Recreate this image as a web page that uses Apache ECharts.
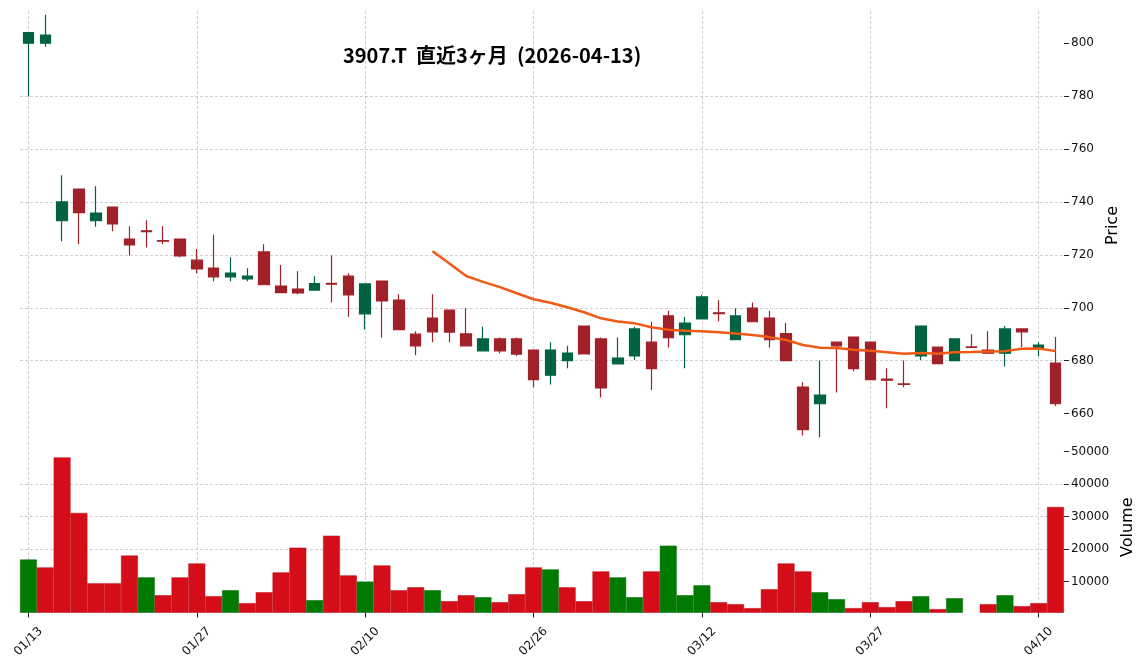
<!DOCTYPE html>
<html>
<head>
<meta charset="utf-8">
<script src="https://cdn.jsdelivr.net/npm/echarts@6/dist/echarts.min.js"></script>
<style>
  html, body { margin: 0; padding: 0; background: #fff; }
  #chart { width: 1144px; height: 670px; }
</style>
</head>
<body>
<div id="chart"></div>
<script>
// trading days (MM/DD), 2026
const dates = [
  '01/13','01/14','01/15','01/16','01/19','01/20','01/21','01/22','01/23','01/26',
  '01/27','01/28','01/29','01/30','02/02','02/03','02/04','02/05','02/06','02/09',
  '02/10','02/12','02/13','02/16','02/17','02/18','02/19','02/20','02/24','02/25',
  '02/26','02/27','03/02','03/03','03/04','03/05','03/06','03/09','03/10','03/11',
  '03/12','03/13','03/16','03/17','03/18','03/19','03/23','03/24','03/25','03/26',
  '03/27','03/30','03/31','04/01','04/02','04/03','04/06','04/07','04/08','04/09',
  '04/10','04/13'
];
const opens = [
  800.0,800.0,732.9,744.9,732.9,738.1,726.0,729.1,725.4,726.0,
  718.0,715.0,711.7,710.9,721.1,708.2,707.1,706.7,709.2,712.0,
  697.7,710.1,702.9,690.0,696.1,699.1,690.1,683.7,688.2,688.2,
  684.0,674.5,680.0,693.1,688.2,678.8,681.8,687.0,696.9,689.8,
  695.8,698.1,687.9,699.9,696.1,690.2,670.0,663.7,687.0,688.9,
  687.0,673.0,671.2,681.8,685.1,680.0,685.2,684.0,682.8,692.0,
  684.9,679.1
];
const closes = [
  804.0,803.1,740.0,736.0,735.8,731.7,723.8,728.8,725.2,719.6,
  714.7,711.7,713.1,712.0,708.7,705.7,705.6,709.1,708.9,704.9,
  709.0,702.6,691.7,685.6,690.9,690.8,685.6,688.2,683.7,682.5,
  672.8,684.0,682.9,682.6,669.7,681.0,692.0,677.0,688.7,694.2,
  704.1,697.8,696.9,694.7,687.9,680.0,653.9,667.0,685.6,677.0,
  672.8,672.6,671.0,693.1,678.9,688.2,685.0,682.8,692.0,690.9,
  685.9,663.7
];
const lows = [
  780.0,798.7,725.1,724.0,730.6,728.9,719.8,722.8,724.0,719.1,
  713.0,710.0,710.0,710.0,708.7,705.7,705.1,706.7,702.0,696.6,
  691.8,688.8,691.7,682.0,687.0,687.0,685.6,683.7,682.8,681.8,
  669.9,671.0,677.1,682.6,666.1,678.8,680.2,668.9,685.0,677.1,
  695.8,694.9,687.9,694.7,685.0,680.0,651.7,651.0,668.0,676.0,
  672.8,662.0,669.9,680.2,678.9,680.0,685.0,682.8,677.8,685.1,
  681.8,662.9
];
const highs = [
  804.0,810.8,750.1,744.9,745.9,738.1,730.8,733.1,730.8,726.0,
  722.2,727.6,719.1,714.9,724.0,716.2,713.8,711.9,719.8,713.0,
  709.0,710.1,705.1,691.1,705.1,699.1,699.8,692.8,688.8,688.8,
  684.0,687.0,685.6,693.1,688.8,688.8,692.8,694.7,698.9,696.6,
  704.9,702.8,699.8,702.0,698.9,694.2,671.8,680.1,687.0,688.9,
  687.0,677.1,680.1,693.1,685.1,688.2,690.0,691.1,693.1,692.0,
  687.0,688.9
];
// 25-day moving average as drawn (starts on the 25th session)
const ma25 = [
  '-','-','-','-','-','-','-','-','-','-',
  '-','-','-','-','-','-','-','-','-','-',
  '-','-','-','-',721.4,716.7,712.0,709.8,707.8,705.5,
  703.2,701.9,700.2,698.3,696.0,694.8,694.1,692.6,691.7,691.3,
  691.1,690.7,690.3,689.7,688.9,687.8,685.9,684.9,684.8,684.1,
  683.7,683.2,682.6,682.9,682.6,683.2,683.3,683.5,683.6,684.5,
  684.6,683.6
];
const volumes = [
  16800,14370,48260,31160,9480,9480,18030,11310,5820,11310,
  15590,5510,7340,3370,6730,12840,20470,4290,24140,11920,
  10020,14980,7340,8260,7340,3980,5820,5210,3680,6120,
  14370,13760,8260,3980,13150,11310,5210,13150,21080,5820,
  8870,3680,3060,1850,7650,15590,13150,6730,4600,1850,
  3680,2150,3980,5510,1540,4900,0,3060,5820,2450,
  3370,32990
];
// 1 = close up vs previous close (green volume), 0 = down
const volUp = [
  1,0,0,0,0,0,0,1,0,0,
  0,0,1,0,0,0,0,1,0,0,
  1,0,0,0,1,0,0,1,0,0,
  0,1,0,0,0,1,1,0,1,1,
  1,0,0,0,0,0,0,1,1,0,
  0,0,0,1,0,1,0,0,1,0,
  0,0
];
const priceTicks = [660, 680, 700, 720, 740, 760, 780, 800];
const volumeTicks = [10000, 20000, 30000, 40000, 50000];

const UP = '#006340', DOWN = '#a02128';
const VOL_UP = '#007a00', VOL_DOWN = '#d50d18';
const gridLine = { show: true, lineStyle: { color: '#c4c4c4', width: 0.8, type: [3, 2] } };
const tickFont = { fontFamily: 'DejaVu Sans', fontSize: 12, color: '#111' };
const everyTen = (index) => index % 10 === 0;

const chart = echarts.init(document.getElementById('chart'));

chart.setOption({
  animation: false,
  backgroundColor: '#fff',
  title: {
    text: '3907.T  直近3ヶ月  (2026-04-13)',
    left: 338,
    top: 40,
    textStyle: { fontFamily: 'Noto Sans CJK JP', fontWeight: 'bold', fontSize: 20, color: '#000' }
  },
  grid: [
    { left: 20, right: 80, top: 11, height: 429 },
    { left: 20, right: 80, top: 442, height: 170.5 }
  ],
  xAxis: [
    {
      type: 'category', gridIndex: 0, data: dates, boundaryGap: true,
      axisLine: { show: false }, axisTick: { show: false }, axisLabel: { show: false },
      splitLine: Object.assign({ interval: everyTen, alignWithLabel: true }, gridLine)
    },
    {
      type: 'category', gridIndex: 1, data: dates, boundaryGap: true,
      axisLine: { show: false },
      axisTick: { show: true, interval: everyTen, alignWithLabel: true, length: 5, lineStyle: { color: '#222' } },
      axisLabel: Object.assign({ interval: everyTen, rotate: 45, align: 'center', verticalAlign: 'middle', margin: 29 }, tickFont),
      splitLine: Object.assign({ interval: everyTen, alignWithLabel: true }, gridLine)
    }
  ],
  yAxis: [
    {
      type: 'value', gridIndex: 0, position: 'right', min: 650, max: 812.2, splitNumber: 8, scale: true,
      name: 'Price', nameLocation: 'middle', nameRotate: 90, nameGap: 39,
      nameTextStyle: { fontFamily: 'DejaVu Sans', fontSize: 16, color: '#000' },
      axisLine: { show: false },
      axisTick: { show: true, length: 5, customValues: priceTicks, lineStyle: { color: '#222' } },
      axisLabel: Object.assign({ customValues: priceTicks, margin: 7 }, tickFont),
      splitLine: Object.assign({ showMinLine: false, showMaxLine: false }, gridLine)
    },
    {
      type: 'value', gridIndex: 1, position: 'right', min: 500, max: 53000, splitNumber: 5,
      name: 'Volume', nameLocation: 'middle', nameRotate: 90, nameGap: 53,
      nameTextStyle: { fontFamily: 'DejaVu Sans', fontSize: 16, color: '#000' },
      axisLine: { show: false },
      axisTick: { show: true, length: 5, customValues: volumeTicks, lineStyle: { color: '#222' } },
      axisLabel: Object.assign({ customValues: volumeTicks, margin: 7, formatter: (v) => String(v) }, tickFont),
      splitLine: Object.assign({ showMinLine: false, showMaxLine: false }, gridLine)
    }
  ],
  series: [
    {
      name: 'candles', type: 'candlestick', xAxisIndex: 0, yAxisIndex: 0,
      barWidth: 11,
      data: dates.map((d, i) => [opens[i], closes[i], lows[i], highs[i]]),
      itemStyle: { color: UP, color0: DOWN, borderColor: UP, borderColor0: DOWN, borderWidth: 1.2 }
    },
    {
      name: 'MA25', type: 'line', xAxisIndex: 0, yAxisIndex: 0,
      data: ma25, showSymbol: false, symbol: 'none',
      lineStyle: { color: '#f05a14', width: 2.5 }, z: 5
    },
    {
      name: 'Volume', type: 'bar', xAxisIndex: 1, yAxisIndex: 1,
      barWidth: '100%', barCategoryGap: 0,
      data: volumes.map((v, i) => ({
        value: v,
        itemStyle: {
          color: volUp[i] ? VOL_UP : VOL_DOWN,
          borderColor: volUp[i] ? '#006a00' : '#b80a14',
          borderWidth: 0.5
        }
      }))
    }
  ]
});
</script>
</body>
</html>
